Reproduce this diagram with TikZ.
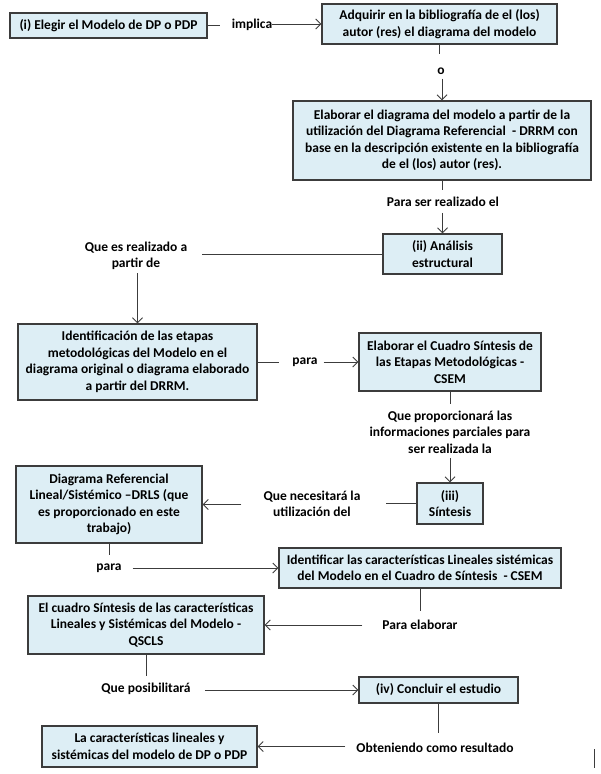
\documentclass[tikz,border=0pt]{standalone}
\usepackage{fontspec}
\setmainfont{Carlito}
\usetikzlibrary{arrows.meta}
\definecolor{boxfill}{RGB}{221,238,245}
\definecolor{boxline}{RGB}{60,60,60}
\definecolor{lncol}{RGB}{60,60,60}
\begin{document}
\begin{tikzpicture}[x=1pt,y=-1pt,
  box/.style={draw=boxline, fill=boxfill, line width=1.1pt, align=center, inner sep=3pt,
    font=\fontsize{13.5}{16.5}\selectfont\bfseries},
  lab/.style={align=center, inner sep=0pt, font=\fontsize{13.5}{16.5}\selectfont\bfseries},
  ln/.style={draw=lncol, line width=1pt},
  arr/.style={ln, -{Straight Barb[length=5pt,width=10pt]}}]
\useasboundingbox (0,0) rectangle (600,774);

% boxes
\node[box, minimum width=197pt, minimum height=25pt] (b1) at (108.5,25.5) {(i) Elegir el Modelo de DP o PDP};
\node[box, minimum width=235pt, minimum height=40pt] (b2) at (439.5,24) {Adquirir en la bibliografía de el (los)\\autor (res) el diagrama del modelo};
\node[box, minimum width=298pt, minimum height=79pt] (b3) at (442,140.5) {Elaborar el diagrama del modelo a partir de la\\utilización del Diagrama Referencial \ - DRRM con\\base en la descripción existente en la bibliografía\\de el (los) autor (res).};
\node[box, minimum width=119pt, minimum height=40pt] (b4) at (442.5,254) {(ii) Análisis\\estructural};
\node[box, minimum width=239pt, minimum height=76pt] (b5) at (137.5,362) {Identificación de las etapas\\metodológicas del Modelo en el\\diagrama original o diagrama elaborado\\a partir del DRRM.};
\node[box, minimum width=182pt, minimum height=58pt] (b6) at (450,362) {Elaborar el Cuadro Síntesis de\\las Etapas Metodológicas -\\CSEM};
\node[box, minimum width=66pt, minimum height=41pt] (b7) at (450,503.5) {(iii)\\Síntesis};
\node[box, minimum width=186pt, minimum height=77pt] (b8) at (109,504.5) {Diagrama Referencial\\Lineal/Sistémico –DRLS (que\\es proporcionado en este\\trabajo)};
\node[box, minimum width=282pt, minimum height=40pt] (b9) at (420,568) {Identificar las características Lineales sistémicas\\del Modelo en el Cuadro de Síntesis \ - CSEM};
\node[box, minimum width=236pt, minimum height=58pt] (b10) at (146,625) {El cuadro Síntesis de las características\\Lineales y Sistémicas del Modelo -\\QSCLS};
\node[box, minimum width=159pt, minimum height=26pt] (b11) at (438.5,690) {(iv) Concluir el estudio};
\node[box, minimum width=215pt, minimum height=41pt] (b12) at (149.5,746.5) {La características lineales y\\sistémicas del modelo de DP o PDP};

% labels
\node[lab] (impl) at (252,25) {implica};
\node[lab] (lo) at (441,71) {o};
\node[lab] (lpara1) at (443,202) {Para ser realizado el};
\node[lab] (lque) at (136,256) {Que es realizado a\\partir de};
\node[lab] (lpara2) at (305,362) {para};
\node[lab] (lprop) at (450,432) {Que proporcionará las\\informaciones parciales para\\ser realizada la};
\node[lab] (lnec) at (312,504) {Que necesitará la\\utilización del};
\node[lab] (lpara3) at (109,568) {para};
\node[lab] (lelab) at (420,625) {Para elaborar};
\node[lab] (lpos) at (146,689) {Que posibilitará};
\node[lab] (lobt) at (435,748) {Obteniendo como resultado};

% connectors
\draw[ln, shorten >=12pt] (b1.east) -- (b1.east -| impl.west);
\draw[arr] (impl.east |- b2.west) -- (b2.west);
\draw[ln, shorten >=13pt] (b2.south) -- (b2.south |- lo.north);
\draw[arr, shorten <=4pt] (lo.south -| b3.north) -- (b3.north);
\draw[ln, shorten >=7pt] (b3.south) -- (b3.south |- lpara1.north);
\draw[arr, shorten <=6pt] (lpara1.south -| b4.north) -- (b4.north);
\draw[ln, shorten >=15pt] (b4.west) -- (b4.west -| lque.east);
\draw[arr, shorten <=3pt] (lque.south -| b5.north) -- (b5.north);
\draw[ln, shorten >=13pt] (b5.east) -- (b5.east -| lpara2.west);
\draw[arr, shorten <=6pt] (lpara2.east |- b6.west) -- (b6.west);
\draw[ln, shorten >=7pt] (b6.south) -- (b6.south |- lprop.north);
\draw[arr, shorten <=5pt] (lprop.south -| b7.north) -- (b7.north);
\draw[ln, shorten >=25pt] (b7.west) -- (b7.west -| lnec.east);
\draw[arr, shorten <=22pt] (lnec.west |- b8.east) -- (b8.east);
\draw[ln, shorten >=8pt] (b8.south) -- (b8.south |- lpara3.north);
\draw[arr, shorten <=11pt] (lpara3.east |- b9.west) -- (b9.west);
\draw[ln, shorten >=9pt] (b9.south) -- (b9.south |- lelab.north);
\draw[arr, shorten <=20pt] (lelab.west |- b10.east) -- (b10.east);
\draw[ln, shorten >=7pt] (b10.south) -- (b10.south |- lpos.north);
\draw[arr, shorten <=14pt] (lpos.east |- b11.west) -- (b11.west);
\draw[ln, shorten >=10pt] (b11.south) -- (b11.south |- lobt.north);
\draw[arr, shorten <=11pt] (lobt.west |- b12.east) -- (b12.east);

% stray mark
\coordinate (m1) at (594,749);
\coordinate (m2) at (594,768);
\draw[ln] (m1) -- (m2);
\end{tikzpicture}
\end{document}
